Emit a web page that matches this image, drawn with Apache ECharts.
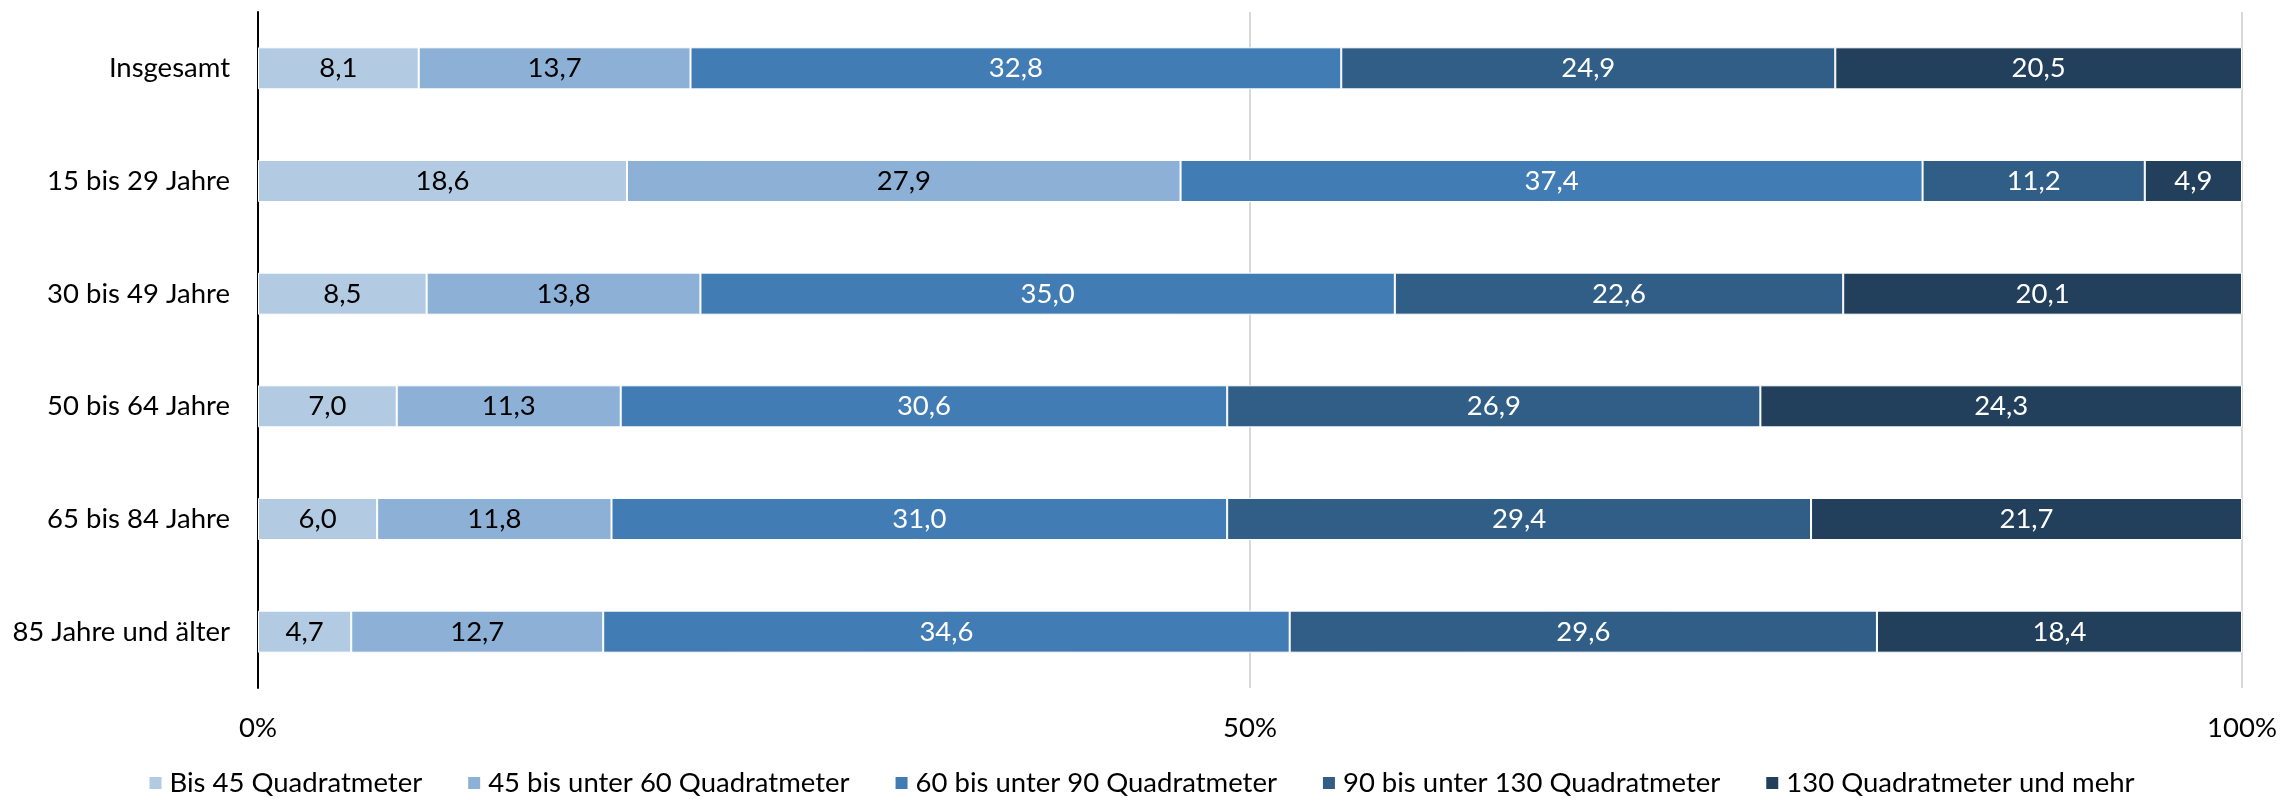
<!DOCTYPE html>
<html>
<head>
<meta charset="utf-8">
<script src="https://cdn.jsdelivr.net/npm/echarts@6/dist/echarts.min.js"></script>
<style>
  html, body { margin: 0; padding: 0; background: #ffffff; }
  #chart { width: 2282px; height: 799px; }
</style>
</head>
<body>
<div id="chart"></div>
<script>
const categories = ['Insgesamt', '15 bis 29 Jahre', '30 bis 49 Jahre', '50 bis 64 Jahre', '65 bis 84 Jahre', '85 Jahre und älter'];
const seriesNames = ['Bis 45 Quadratmeter', '45 bis unter 60 Quadratmeter', '60 bis unter 90 Quadratmeter', '90 bis unter 130 Quadratmeter', '130 Quadratmeter und mehr'];
const bis45 = [8.1, 18.6, 8.5, 7.0, 6.0, 4.7];
const s45bis60 = [13.7, 27.9, 13.8, 11.3, 11.8, 12.7];
const s60bis90 = [32.8, 37.4, 35.0, 30.6, 31.0, 34.6];
const s90bis130 = [24.9, 11.2, 22.6, 26.9, 29.4, 29.6];
const s130mehr = [20.5, 4.9, 20.1, 24.3, 21.7, 18.4];
const xTickLabels = ['0%', '50%', '100%'];

const colors = ['#B2CBE3', '#8CB0D6', '#417CB5', '#305E87', '#223F5C'];
const labelColors = ['#000000', '#000000', '#ffffff', '#ffffff', '#ffffff'];
const allSeries = [bis45, s45bis60, s60bis90, s90bis130, s130mehr];
const rowSums = categories.map((_, i) => allSeries.reduce((a, s) => a + s[i], 0));
const FONT = 'Lato';
const FS = 27.5;

const chart = echarts.init(document.getElementById('chart'));
chart.setOption({
  animation: false,
  backgroundColor: '#ffffff',
  textStyle: { fontFamily: FONT },
  grid: { left: 258, right: 2282 - 2242, top: 12, bottom: 799 - 688, containLabel: false },
  xAxis: {
    type: 'value', min: 0, max: 100, interval: 50,
    axisLine: { show: false }, axisTick: { show: false },
    splitLine: { show: true, lineStyle: { color: '#D9D9D9', width: 2 } },
    axisLabel: {
      margin: 26, fontSize: FS, color: '#000000', fontFamily: FONT,
      formatter: v => xTickLabels[Math.round(v / 50)]
    }
  },
  yAxis: {
    type: 'category', data: categories, inverse: true,
    axisLine: { show: true, lineStyle: { color: '#000000', width: 2 } },
    axisTick: { show: false },
    axisLabel: { margin: 28, fontSize: FS, color: '#000000', fontFamily: FONT }
  },
  legend: {
    data: seriesNames, top: 764, left: 'center',
    icon: 'rect', itemWidth: 14, itemHeight: 14, itemGap: 44,
    textStyle: { fontSize: FS, color: '#000000', fontFamily: FONT, padding: [0, 0, 0, 2] }
  },
  series: seriesNames.map((name, k) => ({
    name, type: 'bar', stack: 'total', barCategoryGap: '62.7%',
    data: allSeries[k].map((v, i) => ({ value: v / rowSums[i] * 100, raw: v })),
    itemStyle: { color: colors[k], borderColor: '#ffffff', borderWidth: 1 },
    label: {
      show: true, position: 'inside', fontSize: FS, fontFamily: FONT, color: labelColors[k],
      formatter: p => p.data.raw.toFixed(1).replace('.', ',')
    }
  }))
});
</script>
</body>
</html>
